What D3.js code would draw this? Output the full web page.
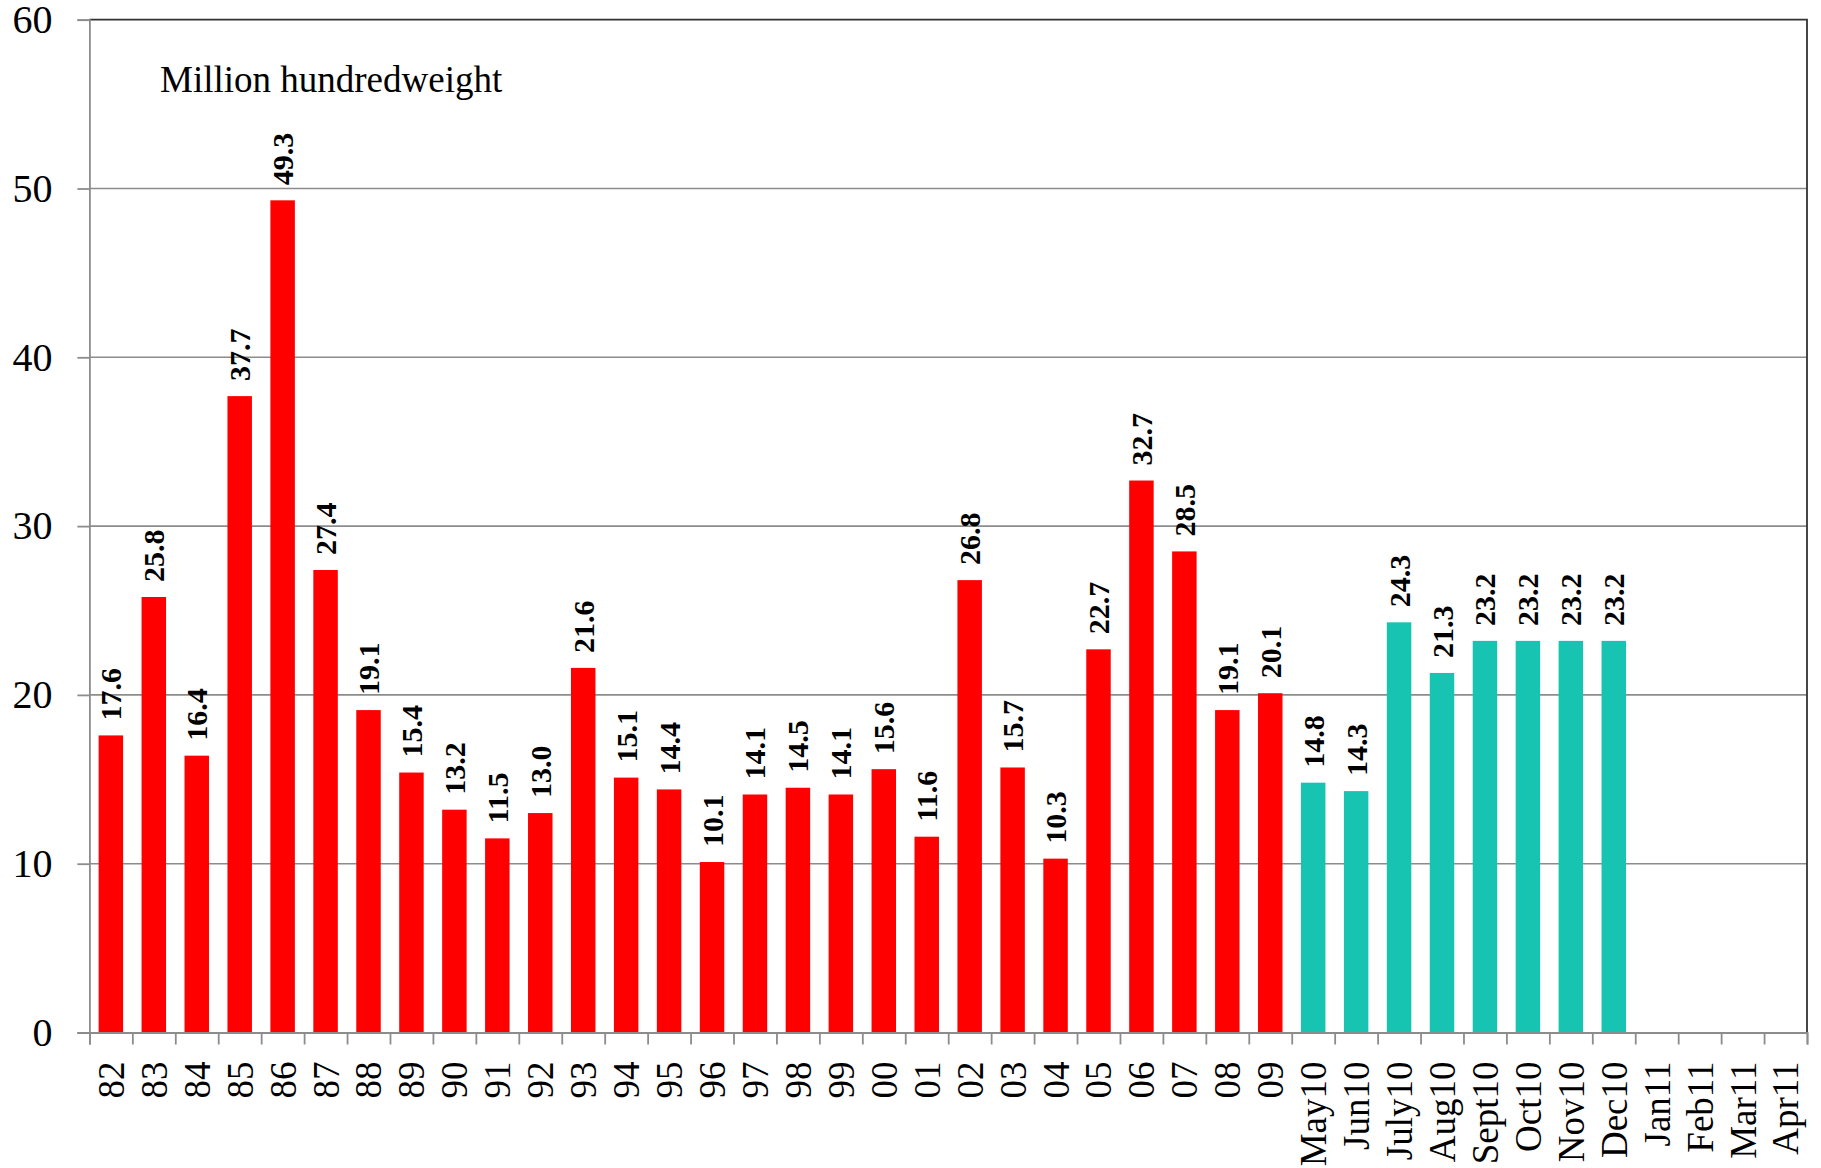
<!DOCTYPE html>
<html><head><meta charset="utf-8">
<script src="https://cdn.jsdelivr.net/npm/d3@7"></script>
<style>
html,body{margin:0;padding:0;background:#fff;}
svg{display:block;}
</style></head>
<body>
<svg id="chart" width="1821" height="1168"></svg>
<script>
const categories = ["82","83","84","85","86","87","88","89","90","91","92","93","94","95","96","97","98","99","00","01","02","03","04","05","06","07","08","09","May10","Jun10","July10","Aug10","Sept10","Oct10","Nov10","Dec10","Jan11","Feb11","Mar11","Apr11"];
const annualValues = [17.6,25.8,16.4,37.7,49.3,27.4,19.1,15.4,13.2,11.5,13.0,21.6,15.1,14.4,10.1,14.1,14.5,14.1,15.6,11.6,26.8,15.7,10.3,22.7,32.7,28.5,19.1,20.1];
const monthlyValues = [14.8,14.3,24.3,21.3,23.2,23.2,23.2,23.2];
const yTicks = [0,10,20,30,40,50,60];
const unitLabel = "Million hundredweight";

const annualCats = categories.slice(0, annualValues.length);
const monthlyCats = categories.slice(annualValues.length, annualValues.length + monthlyValues.length);
const data = annualCats.map((c,i)=>({cat:c, v:annualValues[i], color:"#ff0000"}))
  .concat(monthlyCats.map((c,i)=>({cat:c, v:monthlyValues[i], color:"#17c4b1"})));

const W = 1821, H = 1168;
const m = {left:89.4, right:14, top:19.7, bottom:135.5};
const svg = d3.select("#chart");
const serif = "'Liberation Serif','Times New Roman',serif";

const x = d3.scaleBand().domain(categories).range([m.left, W - m.right]).paddingInner(0.43).paddingOuter(0.215);
const xb = d3.scaleLinear().domain([0, categories.length]).range([m.left, W - m.right]);
const y = d3.scaleLinear().domain([0, 60]).range([H - m.bottom, m.top]);

// gridlines
svg.append("g").selectAll("line").data(yTicks.filter(t=>t>0 && t<60)).join("line")
  .attr("x1", m.left).attr("x2", W - m.right)
  .attr("y1", d=>y(d)).attr("y2", d=>y(d))
  .attr("stroke", "#8c8c8c").attr("stroke-width", 1.6);

// top and right border
svg.append("path")
  .attr("d", `M${m.left},${y(60)}H${W-m.right}V${y(0)}`)
  .attr("fill","none").attr("stroke","#333").attr("stroke-width",1.8);

// bars
svg.append("g").selectAll("rect").data(data).join("rect")
  .attr("x", d=>x(d.cat)).attr("width", x.bandwidth())
  .attr("y", d=>y(d.v)).attr("height", d=>y(0)-y(d.v))
  .attr("fill", d=>d.color);

// value labels
svg.append("g").selectAll("text").data(data).join("text")
  .attr("transform", d=>`translate(${x(d.cat)+x.bandwidth()/2},${y(d.v)-15}) rotate(-90)`)
  .attr("dy","0.35em")
  .attr("text-anchor","start")
  .attr("font-family", serif).attr("font-weight","bold").attr("font-size", 30)
  .attr("fill","#000")
  .text(d=>d.v.toFixed(1));

// y axis
const yAxis = svg.append("g").attr("transform",`translate(${m.left},0)`)
  .call(d3.axisLeft(y).tickValues(yTicks).tickSize(12).tickPadding(25).tickFormat(d3.format("d")));
yAxis.selectAll("path,line").attr("stroke","#8c8c8c").attr("stroke-width",1.8);
yAxis.selectAll("text").attr("font-family",serif).attr("font-size",40).attr("fill","#000");

// x axis boundary ticks
const xAxisB = svg.append("g").attr("transform",`translate(0,${y(0)})`)
  .call(d3.axisBottom(xb).tickValues(d3.range(categories.length+1)).tickSize(12).tickFormat(""));
xAxisB.selectAll("path,line").attr("stroke","#8c8c8c").attr("stroke-width",1.8);

// x labels
const xAxis = svg.append("g").attr("transform",`translate(0,${y(0)})`)
  .call(d3.axisBottom(x).tickSize(0).tickPadding(0));
xAxis.select("path").remove();
xAxis.selectAll("text")
  .attr("transform","translate(0,29) rotate(-90)")
  .attr("text-anchor","end").attr("x",0).attr("y",0).attr("dy","0.35em")
  .attr("font-family",serif).attr("font-size",37).attr("fill","#000");

// unit label
svg.append("text").attr("x",160).attr("y",92)
  .attr("font-family",serif).attr("font-size",37).attr("fill","#000")
  .text(unitLabel);
</script>
</body></html>
